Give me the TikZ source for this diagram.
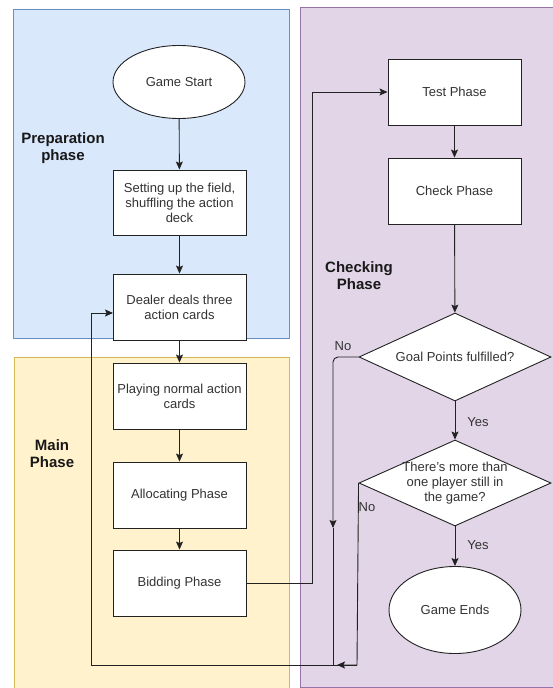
\documentclass[tikz,border=0pt]{standalone}
\usepackage{fontspec}
\setmainfont{Liberation Sans}
\usetikzlibrary{shapes.geometric,arrows.meta}
\definecolor{txt}{HTML}{333333}
\definecolor{bluefill}{HTML}{DAE8FC}
\definecolor{blueline}{HTML}{6C8EBF}
\definecolor{yelfill}{HTML}{FFF2CC}
\definecolor{yelline}{HTML}{D6B656}
\definecolor{purfill}{HTML}{E1D5E7}
\definecolor{purline}{HTML}{9673A6}
\definecolor{edge}{HTML}{222222}
\begin{document}
\begin{tikzpicture}[x=1pt,y=-1pt,
  region/.style={line width=0.8pt},
  stepbox/.style={draw=edge, fill=white, line width=0.9pt, minimum width=133pt, minimum height=66pt, inner sep=0pt, align=center, text=txt, font=\fontsize{13}{15}\selectfont},
  oval/.style={ellipse, draw=edge, fill=white, line width=0.9pt, minimum width=132pt, inner sep=0pt, text=txt, font=\fontsize{13}{15}\selectfont},
  dia/.style={diamond, draw=edge, fill=white, line width=0.9pt, minimum width=192pt, minimum height=88pt, inner sep=0pt},
  dtext/.style={align=center, text=txt, font=\fontsize{13}{15}\selectfont},
  phase/.style={align=center, font=\fontsize{15}{17}\selectfont\bfseries, text=black!90},
  lbl/.style={text=txt, font=\fontsize{13}{15}\selectfont, inner sep=0pt},
  conn/.style={draw=edge, line width=0.9pt},
  arr/.style={conn, -{Stealth[length=8pt,width=7pt,inset=1.5pt]}}
]
\useasboundingbox[fill=white] (0,0) rectangle (552,688);

% regions
\draw[region, fill=bluefill, draw=blueline] (13,9) rectangle (289,338);
\draw[region, fill=yelfill, draw=yelline] (14,357) rectangle (289,692);
\draw[region, fill=purfill, draw=purline] (300,7) rectangle (560,687);

% phase labels
\node[phase] (lprep) at (63,148) {Preparation\\phase};
\node[phase] (lmain) at (52,454) {Main\\Phase};
\node[phase] (lcheck) at (359,276) {Checking\\Phase};

% left column
\node[oval, minimum height=73pt] (start) at (179,82) {Game Start};
\node[stepbox, minimum height=65pt] (setup) at (179.5,202.5) {Setting up the field,\\shuffling the action\\deck};
\node[stepbox] (dealer) at (179.5,307) {Dealer deals three\\action cards};
\node[stepbox] (play) at (179.5,396) {Playing normal action\\cards};
\node[stepbox] (alloc) at (179.5,495) {Allocating Phase};
\node[stepbox] (bid) at (179.5,583) {Bidding Phase};

% right column
\node[stepbox] (test) at (454.5,92) {Test Phase};
\node[stepbox] (check) at (454.5,191) {Check Phase};
\node[dia] (goal) at (455,357) {};
\node[dtext] (goalt) at (goal.center) {Goal Points fulfilled?};
\node[dia, minimum height=86pt] (more) at (455,483) {};
\node[dtext] (moret) at (more.center) {There's more than\\one player still in\\the game?};
\node[oval, minimum height=87pt] (ends) at (455,610) {Game Ends};

% straight arrows
\draw[arr] (start) -- (setup);
\draw[arr] (setup) -- (dealer);
\draw[arr] (dealer) -- (play);
\draw[arr] (play) -- (alloc);
\draw[arr] (alloc) -- (bid);
\draw[arr] (test) -- (check);
\draw[arr] (check) -- (goal);
\draw[arr] (goal) -- (more);
\draw[arr] (more) -- (ends);

% Bidding -> Test
\coordinate (bx) at (312,583);
\coordinate (tx) at (312,92);
\draw[arr] (bid.east) -- (bx) -- (tx) -- (test.west);

% No loops
\coordinate (nA) at (333,357);
\coordinate (nB) at (333,528);
\coordinate (nC) at (333,665);
\coordinate (lB) at (91,665);
\coordinate (lT) at (91,313);
\coordinate (dIn) at (113,313);
\coordinate (m1) at (357,665);
\coordinate (mE) at (337,665);
\draw[arr, rounded corners=5pt] (goal.west) -- (nA) -- (nB);
\draw[conn] (nB) -- (nC);
\draw[arr] (m1) -- (lB) -- (lT) -- (dIn);
\draw[arr] (more.west) -- (m1) -- (mE);

% edge labels
\node[lbl] (no1) at (343,346) {No};
\node[lbl] (yes1) at (478,422) {Yes};
\node[lbl] (no2) at (367,507) {No};
\node[lbl] (yes2) at (478,545) {Yes};
\end{tikzpicture}
\end{document}
